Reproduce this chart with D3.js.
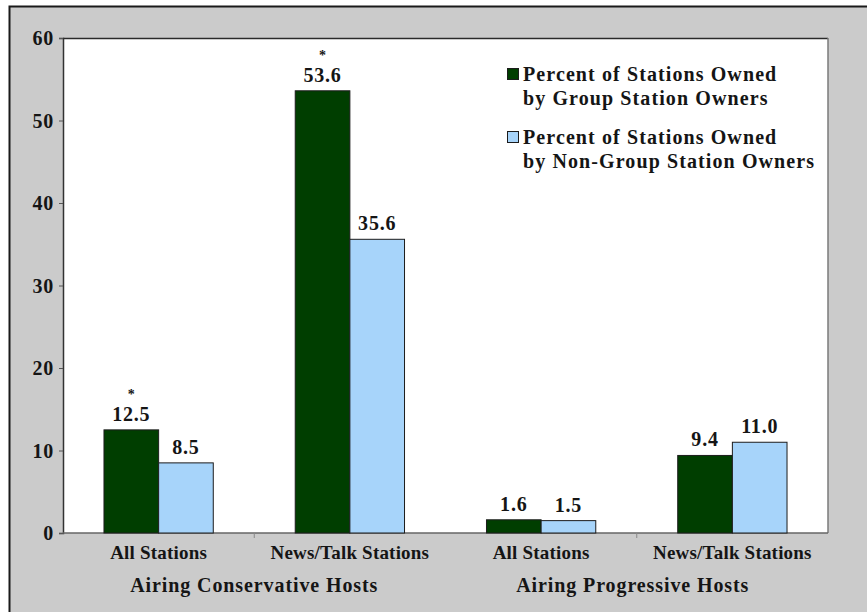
<!DOCTYPE html>
<html>
<head>
<meta charset="utf-8">
<script src="https://cdn.jsdelivr.net/npm/d3@7"></script>
<style>
  html, body { margin: 0; padding: 0; background: #ffffff; }
  svg { display: block; }
  text { font-family: "Liberation Serif", "Times New Roman", serif; font-weight: bold; fill: #151515; }
</style>
</head>
<body>
<svg id="chart" width="867" height="612"></svg>
<script>
// Station categories, grouped by host type
const categories = ["Conservative – All", "Conservative – News/Talk", "Progressive – All", "Progressive – News/Talk"];
const categoryLabels = ["All Stations", "News/Talk Stations", "All Stations", "News/Talk Stations"];
const groupLabels = ["Airing Conservative Hosts", "Airing Progressive Hosts"];

// Percent of stations airing the hosts
const groupOwned = [12.5, 53.6, 1.6, 9.4];
const nonGroupOwned = [8.5, 35.6, 1.5, 11.0];
// Statistically significant differences are flagged with an asterisk
const significant = [true, true, false, false];

const seriesNames = [
  ["Percent of Stations Owned", "by Group Station Owners"],
  ["Percent of Stations Owned", "by Non-Group Station Owners"]
];
const seriesColors = ["#003e00", "#a7d4fa"];
const yTicks = [0, 10, 20, 30, 40, 50, 60];

const svg = d3.select("#chart");
const plot = { left: 63, top: 38, right: 828, bottom: 533 };

// Grey frame
svg.append("rect")
  .attr("x", 9.5).attr("y", 6.5).attr("width", 900).attr("height", 700)
  .attr("fill", "#cbcbcb").attr("stroke", "#1a1a1a").attr("stroke-width", 2);

// White plot area
svg.append("rect")
  .attr("x", plot.left).attr("y", plot.top)
  .attr("width", plot.right - plot.left).attr("height", plot.bottom - plot.top)
  .attr("fill", "#ffffff");

const x = d3.scaleBand().domain(categories).range([plot.left, plot.right]).paddingInner(0).paddingOuter(0);
const bw = x.bandwidth() / 3.5;
const y = d3.scaleLinear().domain([0, 60]).range([plot.bottom, plot.top]);

// Plot borders
svg.append("line").attr("x1", plot.left).attr("x2", plot.right).attr("y1", plot.top + 0.5).attr("y2", plot.top + 0.5)
  .attr("stroke", "#2a2a2a").attr("stroke-width", 1.5);
svg.append("line").attr("x1", plot.right).attr("x2", plot.right).attr("y1", plot.top).attr("y2", plot.bottom)
  .attr("stroke", "#7a7a7a").attr("stroke-width", 1.5);

// Y axis
const yAxis = d3.axisLeft(y).tickValues(yTicks).tickSize(4).tickPadding(5).tickFormat(d3.format("d"));
const yg = svg.append("g").attr("transform", `translate(${plot.left},0)`).call(yAxis);
yg.select(".domain").attr("stroke", "#333").attr("stroke-width", 1.5);
yg.selectAll(".tick line").attr("stroke", "#555");
yg.selectAll(".tick text").attr("font-size", 20).attr("font-family", "Liberation Serif").attr("font-weight", "bold")
  .attr("fill", "#151515").attr("dy", "0.34em").attr("letter-spacing", 0.8);

// X axis line
svg.append("line").attr("x1", plot.left).attr("x2", plot.right).attr("y1", plot.bottom).attr("y2", plot.bottom)
  .attr("stroke", "#666").attr("stroke-width", 1.5);

// Ticks between station types within each host group
[categories[0], categories[2]].forEach(c => {
  const tx = x(c) + x.bandwidth();
  svg.append("line").attr("x1", tx).attr("x2", tx).attr("y1", plot.bottom).attr("y2", plot.bottom + 5)
    .attr("stroke", "#888").attr("stroke-width", 1);
});

// Bars
const series = [groupOwned, nonGroupOwned];
series.forEach((vals, si) => {
  svg.append("g").selectAll("rect").data(vals).join("rect")
    .attr("x", (d, i) => x(categories[i]) + x.bandwidth() / 2 - bw + si * bw)
    .attr("y", d => y(d))
    .attr("width", bw)
    .attr("height", d => y(0) - y(d))
    .attr("fill", seriesColors[si])
    .attr("stroke", "#1c1c1c").attr("stroke-width", 1);

  svg.append("g").selectAll("text").data(vals).join("text")
    .attr("x", (d, i) => x(categories[i]) + x.bandwidth() / 2 - bw / 2 + si * bw)
    .attr("y", d => y(d) - 9)
    .attr("text-anchor", "middle")
    .attr("font-size", 20).attr("letter-spacing", 0.8)
    .text(d => d.toFixed(1));
});

// Significance markers above the group-owned values
const marked = groupOwned.map((v, i) => ({ v, i })).filter(d => significant[d.i]);
svg.append("g").selectAll("text").data(marked).join("text")
  .attr("x", d => x(categories[d.i]) + x.bandwidth() / 2 - bw / 2)
  .attr("y", d => y(d.v) - 30.5)
  .attr("text-anchor", "middle")
  .attr("font-size", 14).attr("font-weight", "normal")
  .text("*");

// Category labels
svg.append("g").selectAll("text").data(categories).join("text")
  .attr("x", d => x(d) + x.bandwidth() / 2)
  .attr("y", 559)
  .attr("text-anchor", "middle")
  .attr("font-size", 19).attr("letter-spacing", 0.2)
  .text((d, i) => categoryLabels[i]);

// Host group labels
const groupOffsets = [0, -4];
groupLabels.forEach((g, gi) => {
  const cx = x(categories[gi * 2]) + x.bandwidth() + groupOffsets[gi];
  svg.append("text").attr("x", cx).attr("y", 592)
    .attr("text-anchor", "middle")
    .attr("font-size", 20).attr("letter-spacing", 0.9)
    .text(g);
});

// Legend
const legend = svg.append("g").attr("transform", "translate(507,68)");
seriesNames.forEach((lines, si) => {
  const gy = si * 63;
  legend.append("rect").attr("x", 0.5).attr("y", gy + 0.5).attr("width", 11).attr("height", 11)
    .attr("fill", seriesColors[si]).attr("stroke", "#1c1c1c").attr("stroke-width", 1);
  lines.forEach((t, li) => {
    legend.append("text").attr("x", 16).attr("y", gy + 13 + li * 24)
      .attr("font-size", 20).attr("letter-spacing", 1.1)
      .text(t);
  });
});
</script>
</body>
</html>
